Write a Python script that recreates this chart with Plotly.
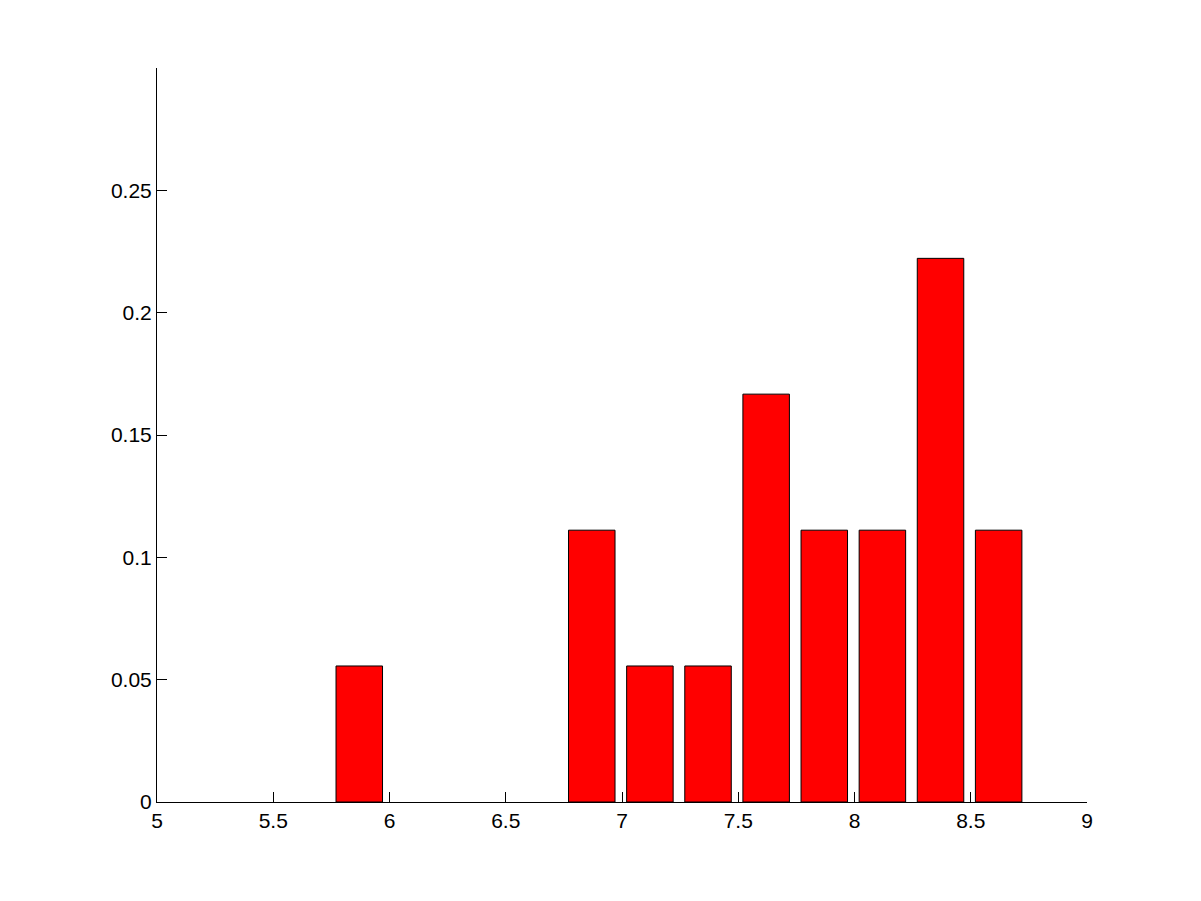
import plotly.graph_objects as go

bin_centers = [5.87, 6.12, 6.37, 6.62, 6.87, 7.12, 7.37, 7.62, 7.87, 8.12, 8.37, 8.62]
frequencies = [0.0556, 0.0, 0.0, 0.0, 0.1111, 0.0556, 0.0556, 0.1667, 0.1111, 0.1111, 0.2222, 0.1111]
x_ticks = [5, 5.5, 6, 6.5, 7, 7.5, 8, 8.5, 9]
x_tick_labels = ["5", "5.5", "6", "6.5", "7", "7.5", "8", "8.5", "9"]
y_ticks = [0, 0.05, 0.1, 0.15, 0.2, 0.25]
y_tick_labels = ["0", "0.05", "0.1", "0.15", "0.2", "0.25"]

outline_widths = [1 if f > 0 else 0 for f in frequencies]

fig = go.Figure(go.Bar(
    x=bin_centers, y=frequencies, width=0.2,
    marker=dict(color="#ff0000", line=dict(color="black", width=outline_widths)),
))

font = dict(family="Liberation Sans, Arial, sans-serif", size=21, color="black")
fig.update_layout(
    width=1201, height=901,
    margin=dict(l=149, r=122, t=60, b=107),
    paper_bgcolor="white", plot_bgcolor="white",
    showlegend=False, font=font,
    xaxis=dict(range=[5, 9], tickvals=x_ticks, ticktext=x_tick_labels, tickfont=font,
               showgrid=False, zeroline=False, showline=True, linecolor="black", linewidth=1,
               ticks="inside", ticklen=10, tickcolor="black", mirror=False),
    yaxis=dict(range=[0, 0.3], tickvals=y_ticks, ticktext=y_tick_labels, tickfont=font,
               showgrid=False, zeroline=False, showline=True, linecolor="black", linewidth=1,
               ticks="inside", ticklen=10, tickcolor="black", mirror=False),
)

fig.write_html("out.html")
